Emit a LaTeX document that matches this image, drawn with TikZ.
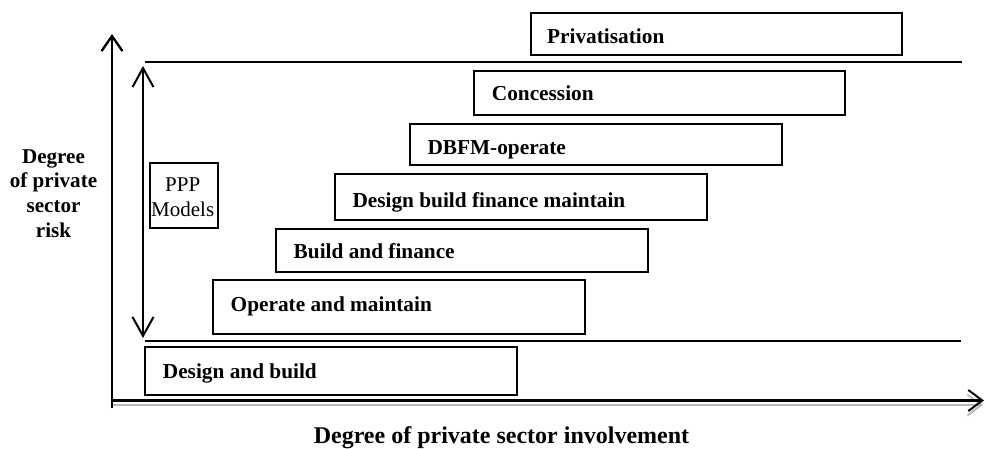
\documentclass[tikz,border=0pt]{standalone}
\usepackage{fontspec}
\setmainfont{Liberation Serif}
\usetikzlibrary{arrows.meta}
\begin{document}
\begin{tikzpicture}[x=1pt,y=-1pt,
  stagebox/.style={draw=black, line width=2pt, anchor=north west, inner sep=0pt},
  stagetext/.style={anchor=base west, inner sep=0pt, font=\fontsize{21.3}{25}\selectfont\bfseries},
  axislabel/.style={inner sep=0pt, font=\fontsize{24}{28}\selectfont\bfseries},
  band/.style={line width=2pt},
  barb/.style={-{Straight Barb[length=14pt,width=21pt,line width=2pt]}}
]
\useasboundingbox (0,0) rectangle (986,448);

% axes
\coordinate (o) at (112,408);
\coordinate (ytip) at (112,34);
\coordinate (xs) at (112,405);
\coordinate (xe) at (983,405);
\coordinate (xs2) at (112,400.5);
\coordinate (xe2) at (984,400.5);
\draw[gray!55, line width=2pt, barb] (xs) -- (xe);
\draw[black, line width=2.2pt, barb] (xs2) -- (xe2);
\draw[black, line width=2.6pt, -{Straight Barb[length=15pt,width=21pt,line width=2.4pt]}] (o) -- (ytip);

% band limits
\coordinate (tl) at (144.5,62.3);
\coordinate (tr) at (962,62.3);
\coordinate (bl) at (144.5,340.5);
\coordinate (br) at (961,340.5);
\draw[band] (tl) -- (tr);
\draw[band] (bl) -- (br);

% PPP range arrow
\coordinate (pa) at (143,66);
\coordinate (pb) at (143,338);
\draw[line width=2pt, {Straight Barb[length=19pt,width=21pt,line width=2pt]}-{Straight Barb[length=19pt,width=21pt,line width=2pt]}] (pa) -- (pb);

\node[stagebox, minimum width=67.5pt, minimum height=64.5pt] (ppp) at (149,162.3) {};
\node[inner sep=0pt, anchor=base, font=\fontsize{21}{24}\selectfont] (pppa) at (182.7,191.7) {PPP};
\node[inner sep=0pt, anchor=base, font=\fontsize{21}{24}\selectfont] (pppb) at (182.7,216) {Models};

% stages
\node[stagebox, minimum width=371pt, minimum height=41.5pt] (priv) at (529.5,12) {};
\node[stagetext] (privT) at (547,43) {Privatisation};

\node[stagebox, minimum width=371.5pt, minimum height=43.5pt] (conc) at (472.7,70) {};
\node[stagetext] (concT) at (491.7,100.7) {Concession};

\node[stagebox, minimum width=372pt, minimum height=41pt] (dbfmo) at (408.6,123.4) {};
\node[stagetext] (dbfmoT) at (427.3,154.3) {DBFM-operate};

\node[stagebox, minimum width=372pt, minimum height=46pt] (dbfm) at (333.5,173.3) {};
\node[stagetext] (dbfmT) at (352.3,207.3) {Design build finance maintain};

\node[stagebox, minimum width=371.5pt, minimum height=42.3pt] (bf) at (275.2,228.3) {};
\node[stagetext] (bfT) at (293.5,258.3) {Build and finance};

\node[stagebox, minimum width=372pt, minimum height=54pt] (om) at (211.5,279) {};
\node[stagetext] (omT) at (230.5,311.7) {Operate and maintain};

\node[stagebox, minimum width=372.5pt, minimum height=48pt] (db) at (143.8,346) {};
\node[stagetext] (dbT) at (162.7,378.3) {Design and build};

% axis titles (base anchor sits on the last line)
\node[inner sep=0pt, anchor=base, align=center, font=\fontsize{21.1}{24.7}\selectfont\bfseries] (ylab) at (53.5,237.3) {Degree\\of private\\sector\\risk};
\node[axislabel, anchor=base] (xlab) at (501.5,443.3) {Degree of private sector involvement};
\end{tikzpicture}
\end{document}
